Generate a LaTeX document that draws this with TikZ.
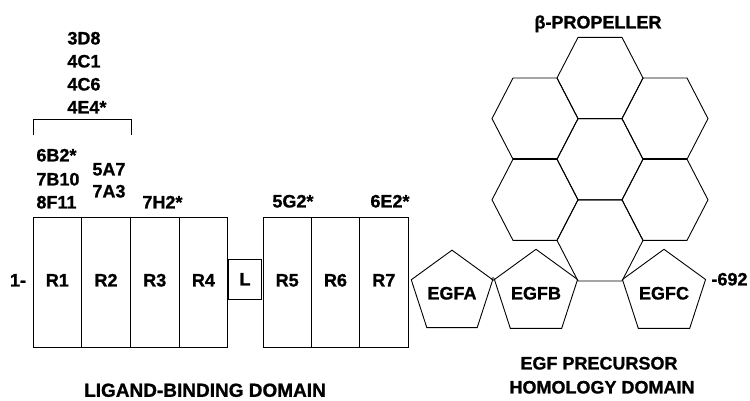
\documentclass[tikz,border=0pt]{standalone}
\usepackage{fontspec}
\setmainfont{Liberation Sans}[BoldFeatures={FakeBold=1}]
\usetikzlibrary{shapes.geometric}
\newcommand\fsz[1]{\fontsize{#1}{#1}\selectfont\bfseries}
\newcommand\drawhex[2]{%
  \draw ({#1-43},{#2}) -- ({#1-22},{#2-40.6}) -- ({#1+22},{#2-40.6}) -- ({#1+43},{#2})
        -- ({#1+22},{#2+40.6}) -- ({#1-22},{#2+40.6}) -- cycle;}
\begin{document}
\begin{tikzpicture}[x=1pt,y=-1pt,line width=0.9pt,
  ab/.style={font=\fsz{18}, anchor=west, inner sep=0pt, text height=12.9pt, text depth=0pt},
  ttl/.style={font=\fsz{18}, inner sep=0pt, text height=12.9pt, text depth=0pt},
  dom/.style={draw, rectangle, minimum width=48.7pt, minimum height=130pt, inner sep=0pt,
              font=\fsz{18}, text height=12.9pt, text depth=4pt},
  egf/.style={draw, regular polygon, regular polygon sides=5, minimum size=85pt, inner sep=0pt,
              font=\fsz{18}, text height=12.9pt, text depth=0pt}]
\useasboundingbox (0,0) rectangle (750,400);
% antibody labels
\node[ab] (a3d8) at (67,38) {3D8};
\node[ab] (a4c1) at (67,61) {4C1};
\node[ab] (a4c6) at (67,84) {4C6};
\node[ab] (a4e4) at (67,107) {4E4*};
\coordinate (bl) at (33,135);
\coordinate (br) at (131,135);
\draw (bl) -- (33,119) -- (131,119) -- (br);
\node[ab] (a6b2) at (36,155) {6B2*};
\node[ab] (a7b10) at (36,179) {7B10};
\node[ab] (a8f11) at (36,202) {8F11};
\node[ab] (a5a7) at (92,169) {5A7};
\node[ab] (a7a3) at (92,191) {7A3};
\node[ab] (a7h2) at (142,202) {7H2*};
\node[ab] (a5g2) at (272,201) {5G2*};
\node[ab] (a6e2) at (370,201) {6E2*};
% ligand-binding repeats
\node[dom] (r1) at (57.35,282) {R1};
\node[dom] (r2) at (106.05,282) {R2};
\node[dom] (r3) at (154.75,282) {R3};
\node[dom] (r4) at (203.45,282) {R4};
\node[draw, rectangle, minimum width=33pt, minimum height=40pt, inner sep=0pt,
      font=\fsz{18}, text height=12.9pt, text depth=0pt] (lk) at (245,279) {L};
\node[dom, minimum width=48.3pt] (r5) at (287.2,282) {R5};
\node[dom, minimum width=48.3pt] (r6) at (335.5,282) {R6};
\node[dom, minimum width=48.3pt] (r7) at (383.8,282) {R7};
\node[ttl] (nterm) at (18,280) {1-};
% beta propeller
\drawhex{600}{78}
\drawhex{535}{118.6}
\drawhex{665}{118.6}
\drawhex{600}{159.2}
\drawhex{535}{199.8}
\drawhex{665}{199.8}
\drawhex{600}{240.4}
\draw[line width=2.2pt] (513,159.2) -- (557,159.2);
\draw[line width=2.2pt] (643,159.2) -- (687,159.2);
% EGF repeats
\node[egf] (egfa) at (452,293) {EGFA};
\node[egf] (egfb) at (536,293) {EGFB};
\node[egf] (egfc) at (664,293) {EGFC};
\draw[line width=0.6pt] (493,279) circle (1.5);
\node[ab] (cterm) at (711,279) {-692};
% titles
\node[ttl] (tprop) at (598,22) {β-PROPELLER};
\node[ttl] (tegf1) at (599,363) {EGF PRECURSOR};
\node[ttl] (tegf2) at (602,387) {HOMOLOGY DOMAIN};
\node[ttl, font=\fsz{19}, text height=13.6pt] (tlig) at (205,390) {LIGAND-BINDING DOMAIN};
\end{tikzpicture}
\end{document}
